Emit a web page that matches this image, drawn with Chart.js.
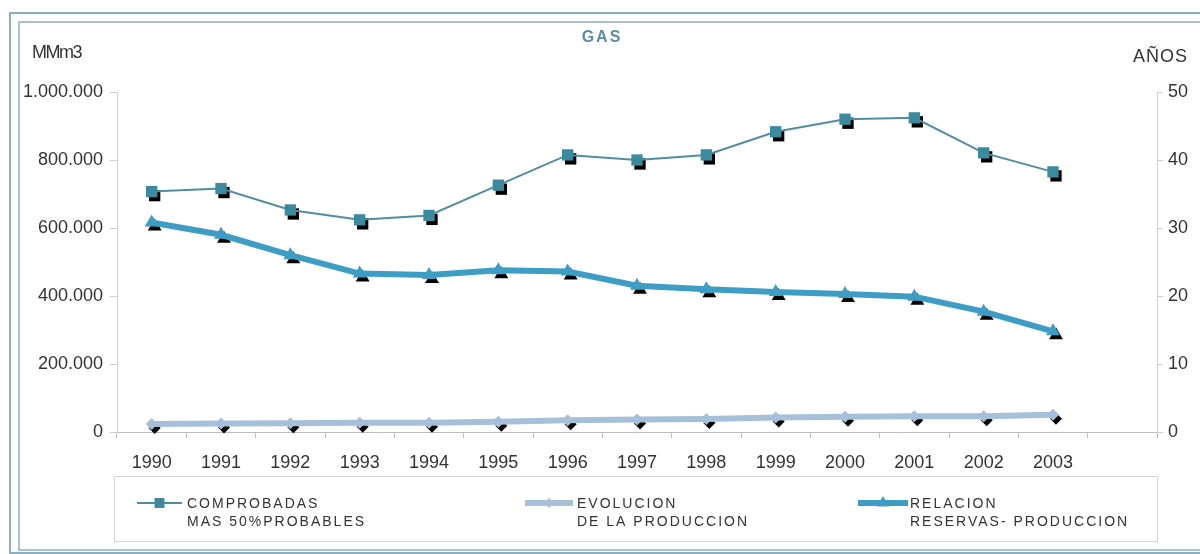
<!DOCTYPE html>
<html lang="es">
<head>
  <meta charset="UTF-8" />
  <title>GAS - reservas y producción</title>
  <script src="https://cdn.jsdelivr.net/npm/chart.js"></script>
  <style>
    body {
      margin: 0;
      background: #fff;
    }
    canvas {
      display: block;
    }
  </style>
</head>
<body>
  <canvas id="gasChart" width="1200" height="554"></canvas>

  <script>
    // datos
    const anios = ['1990', '1991', '1992', '1993', '1994', '1995', '1996', '1997',
                   '1998', '1999', '2000', '2001', '2002', '2003', ''];
    const comprobadas = [707000, 716000, 653000, 624000, 637000, 726000, 815000,
                         800000, 815000, 883000, 920000, 924000, 821000, 765000];
    const produccion = [23500, 25000, 25500, 27000, 27500, 30500, 34500,
                        37000, 38500, 42500, 45000, 46000, 46000, 51000];
    const relacion = [30.8, 29.0, 26.0, 23.3, 23.1, 23.8, 23.6,
                      21.5, 21.0, 20.6, 20.3, 19.9, 17.7, 14.8];
    const ticksIzq = [0, 200000, 400000, 600000, 800000, 1000000];
    const ticksDer = [0, 10, 20, 30, 40, 50];

    const FONT = "'Liberation Sans', Arial, sans-serif";
    const TXT = '#333';
    const MARCO = '#8db0bf';

    function miles(v) {
      return String(v).replace(/\B(?=(\d{3})+(?!\d))/g, '.');
    }

    function punto(ctx, estilo, radio, x, y) {
      if (Chart.helpers && Chart.helpers.drawPoint) {
        Chart.helpers.drawPoint(ctx, { pointStyle: estilo, radius: radio, rotation: 0, borderWidth: 0 }, x, y);
        return;
      }
      ctx.beginPath();
      ctx.arc(x, y, radio, 0, Math.PI * 2);
      ctx.fill();
    }

    // sombra negra de los marcadores (como en el excel original)
    const sombras = {
      id: 'sombras',
      beforeDatasetDraw(chart, args) {
        const ds = chart.data.datasets[args.index];
        const meta = args.meta;
        const ctx = chart.ctx;
        ctx.save();
        ctx.fillStyle = '#000';
        meta.data.forEach(p => {
          if (p.skip) return;
          punto(ctx, ds.pointStyle, ds.pointRadius, p.x + 3, p.y + 4);
        });
        ctx.restore();
      }
    };

    // marco, titulos y leyenda
    const extras = {
      id: 'extras',
      beforeDraw(chart) {
        const ctx = chart.ctx;
        ctx.save();
        ctx.fillStyle = '#fff';
        ctx.fillRect(0, 0, chart.width, chart.height);
        ctx.strokeStyle = MARCO;
        ctx.lineWidth = 2;
        ctx.strokeRect(10, 13, 1200, 540);
        ctx.lineWidth = 1.5;
        ctx.strokeRect(19, 22, 1200, 528);
        ctx.restore();
      },
      afterDraw(chart) {
        const ctx = chart.ctx;
        ctx.save();
        ctx.textBaseline = 'middle';

        ctx.fillStyle = '#5a8ea0';
        ctx.font = 'bold 16px ' + FONT;
        ctx.letterSpacing = '2px';
        ctx.textAlign = 'center';
        ctx.fillText('GAS', 602, 38);

        ctx.fillStyle = TXT;
        ctx.font = '18px ' + FONT;
        ctx.textAlign = 'left';
        ctx.letterSpacing = '-1.5px';
        ctx.fillText('MMm3', 32, 53);
        ctx.letterSpacing = '1px';
        ctx.fillText('AÑOS', 1133, 57);

        // leyenda
        ctx.strokeStyle = '#d4d4d4';
        ctx.lineWidth = 1;
        ctx.strokeRect(114.5, 476.5, 1043, 65);

        const items = [
          { ds: 0, x0: 137, x1: 182, tx: 187 },
          { ds: 1, x0: 525, x1: 573, tx: 577 },
          { ds: 2, x0: 858, x1: 908, tx: 910 }
        ];
        items.forEach(it => {
          const ds = chart.data.datasets[it.ds];
          const y = 503;
          ctx.strokeStyle = ds.borderColor;
          ctx.lineWidth = ds.borderWidth;
          ctx.beginPath();
          ctx.moveTo(it.x0, y);
          ctx.lineTo(it.x1, y);
          ctx.stroke();
          ctx.fillStyle = ds.pointBackgroundColor;
          punto(ctx, ds.pointStyle, ds.pointRadius - 1, (it.x0 + it.x1) / 2, y);

          ctx.fillStyle = TXT;
          ctx.font = '14px ' + FONT;
          ctx.letterSpacing = '2px';
          ds.label.forEach((linea, i) => ctx.fillText(linea, it.tx, 504 + i * 18));
        });
        ctx.restore();
      }
    };

    new Chart(document.getElementById('gasChart'), {
      type: 'line',
      data: {
        labels: anios,
        datasets: [
          {
            label: ['COMPROBADAS', 'MAS 50%PROBABLES'],
            data: comprobadas,
            yAxisID: 'y',
            borderColor: '#4f8ea1',
            borderWidth: 2,
            pointStyle: 'rect',
            pointRadius: 8,
            pointBackgroundColor: '#3b8ba0',
            pointBorderWidth: 0,
            tension: 0
          },
          {
            label: ['EVOLUCION', 'DE LA PRODUCCION'],
            data: produccion,
            yAxisID: 'y',
            borderColor: '#a7c0da',
            borderWidth: 6,
            pointStyle: 'rectRot',
            pointRadius: 6,
            pointBackgroundColor: '#a7c0da',
            pointBorderWidth: 0,
            tension: 0
          },
          {
            label: ['RELACION', 'RESERVAS- PRODUCCION'],
            data: relacion,
            yAxisID: 'y1',
            borderColor: '#3d9dc5',
            borderWidth: 6,
            pointStyle: 'triangle',
            pointRadius: 8,
            pointBackgroundColor: '#3d9dc5',
            pointBorderWidth: 0,
            tension: 0
          }
        ]
      },
      options: {
        responsive: false,
        animation: false,
        layout: { padding: { top: 92, left: 0, right: 0, bottom: 72 } },
        plugins: {
          legend: { display: false },
          title: { display: false },
          tooltip: { enabled: false }
        },
        scales: {
          x: {
            offset: true,
            afterFit: s => { s.height = 50; },
            grid: { offset: true, drawOnChartArea: false, tickLength: 6, color: '#bdbdbd' },
            border: { color: '#bdbdbd' },
            ticks: { color: TXT, font: { family: FONT, size: 18 }, padding: 14, maxRotation: 0, autoSkip: false }
          },
          y: {
            position: 'left',
            min: 0,
            max: 1000000,
            afterFit: s => { s.width = 117; },
            afterBuildTicks: s => { s.ticks = ticksIzq.map(v => ({ value: v })); },
            grid: { drawOnChartArea: false, tickLength: 7, color: '#cfcfcf' },
            border: { color: '#cfcfcf' },
            ticks: { color: TXT, font: { family: FONT, size: 18 }, padding: 7, callback: v => miles(v) }
          },
          y1: {
            position: 'right',
            min: 0,
            max: 50,
            afterFit: s => { s.width = 43; },
            afterBuildTicks: s => { s.ticks = ticksDer.map(v => ({ value: v })); },
            grid: { drawOnChartArea: false, tickLength: 6, color: '#cfcfcf' },
            border: { color: '#cfcfcf' },
            ticks: { color: TXT, font: { family: FONT, size: 18 }, padding: 5 }
          }
        }
      },
      plugins: [sombras, extras]
    });
  </script>
</body>
</html>
